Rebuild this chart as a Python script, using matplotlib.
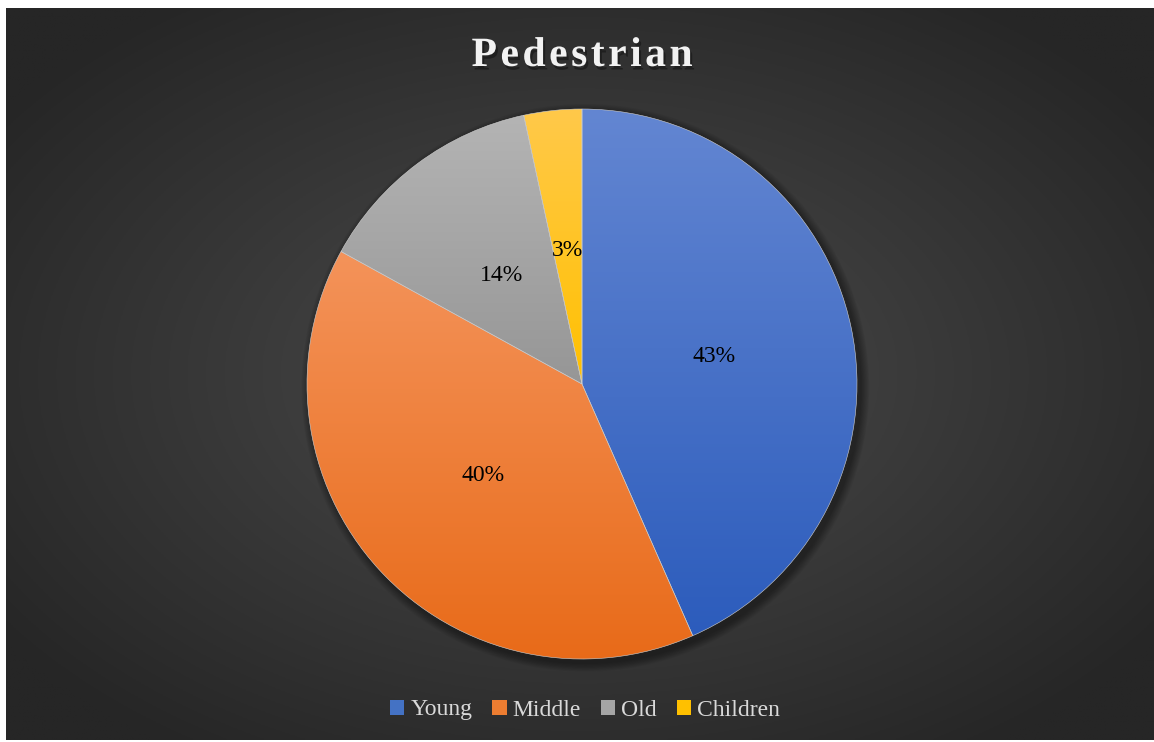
import numpy as np
import matplotlib
matplotlib.use("Agg")
import matplotlib.pyplot as plt
import matplotlib.patheffects as pe
from matplotlib.patches import Patch, Circle
from matplotlib.colors import to_rgb

# data
labels = ["Young", "Middle", "Old", "Children"]
values = [43.4, 39.6, 13.6, 3.4]
pct_text = ["43%", "40%", "14%", "3%"]
top_colors = ["#6386d2", "#f4935a", "#b4b4b4", "#ffc94a"]
bottom_colors = ["#2c5cbc", "#e86a18", "#969696", "#ffc000"]
legend_colors = ["#4472c4", "#ed7d31", "#a5a5a5", "#ffc000"]
title = "Pedestrian"

W, H = 1154, 742
fig = plt.figure(figsize=(W / 100, H / 100), dpi=100)
fig.patch.set_facecolor("white")

# background panel, radial gradient
bg = fig.add_axes([6 / W, 2 / H, (W - 6) / W, (H - 10) / H])
bg.set_axis_off()
yy, xx = np.mgrid[0:1:300j, 0:1:460j]
r = np.sqrt(((xx - 0.5) / 0.62) ** 2 + ((yy - 0.5) / 0.62) ** 2)
r = np.clip(r, 0, 1)
c_in, c_out = np.array(to_rgb("#4c4c4c")), np.array(to_rgb("#262626"))
img = c_in[None, None, :] * (1 - r[..., None]) + c_out[None, None, :] * r[..., None]
bg.imshow(img, extent=(0, 1, 0, 1), aspect="auto", origin="lower")
bg.set_xlim(0, 1)
bg.set_ylim(0, 1)

# pie axes
cx, cy, rad = 582, 384, 275
ax = fig.add_axes([(cx - rad) / W, (H - cy - rad) / H, 2 * rad / W, 2 * rad / H])
ax.set_axis_off()

# soft shadow
for i in range(8):
    ax.add_patch(Circle((0.012, -0.014), 1.0 + 0.004 * (8 - i), color="black",
                        alpha=0.05, lw=0, zorder=0, clip_on=False))

wedges, _ = ax.pie(values, startangle=90, counterclock=False, radius=1,
                   wedgeprops=dict(edgecolor="#d0d0d0", linewidth=0.4))

for w, ctop, cbot in zip(wedges, top_colors, bottom_colors):
    pts = w.get_transform().transform(w.get_path().vertices)
    pts = ax.transData.inverted().transform(pts)
    y0, y1 = pts[:, 1].min(), pts[:, 1].max()
    t = np.linspace(0, 1, 256)[:, None]
    a, b = np.array(to_rgb(ctop)), np.array(to_rgb(cbot))
    grad = (a * (1 - t) + b * t)[:, None, :]
    im = ax.imshow(grad, extent=(-1.05, 1.05, y0, y1), aspect="auto",
                   origin="upper", zorder=1.5)
    im.set_clip_path(w)
    w.set_facecolor("none")
    w.set_zorder(2)

# percentage labels
ang0 = 90.0
tot = sum(values)
for v, s in zip(values, pct_text):
    mid = np.deg2rad(ang0 - v / tot * 360 / 2)
    ang0 -= v / tot * 360
    ax.text(0.49 * np.cos(mid), 0.49 * np.sin(mid), s, ha="center", va="center",
            fontsize=17, family="Liberation Serif", color="black", zorder=3)

ax.set_xlim(-1, 1)
ax.set_ylim(-1, 1)
ax.set_aspect("auto")

# title: hair spaces for the letter spacing, shadow via path effects
spaced = "\u200a".join(title)
fig.text(582 / W, 1 - 56 / H, spaced, ha="center", va="center",
         fontsize=30, fontweight="bold", family=["Liberation Serif", "DejaVu Serif"],
         color="#f2f2f2",
         path_effects=[pe.withSimplePatchShadow(offset=(1.5, -2.5), shadow_rgbFace="black",
                                                alpha=0.35)])

handles = [Patch(facecolor=c, edgecolor="none") for c in legend_colors]
leg = fig.legend(handles, labels, loc="center", bbox_to_anchor=(585 / W, 1 - 710 / H),
                 ncol=4, frameon=False, handlelength=0.6, handleheight=0.6,
                 handletextpad=0.25, columnspacing=0.85,
                 prop=dict(family="Liberation Serif", size=17))
for txt in leg.get_texts():
    txt.set_color("#d9d9d9")

fig.savefig("out.png", dpi=100, facecolor=fig.get_facecolor())
